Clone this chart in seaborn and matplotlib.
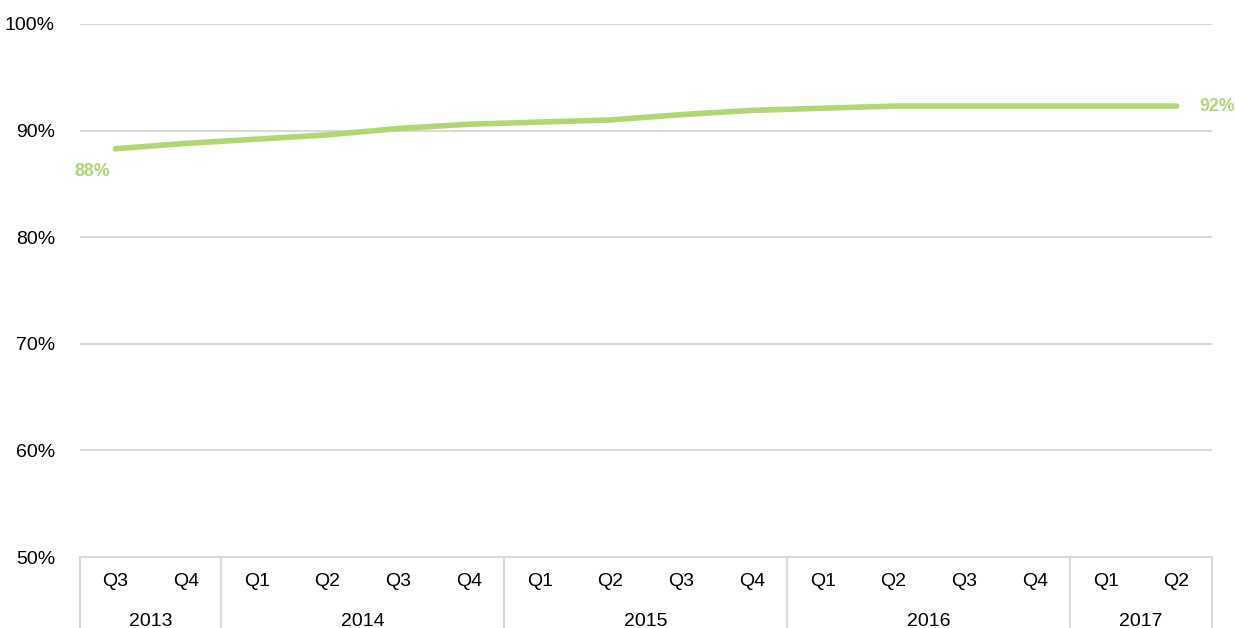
import matplotlib
matplotlib.use("Agg")
import matplotlib.pyplot as plt
import matplotlib.transforms as mtransforms
import seaborn as sns
import pandas as pd

# Quarterly series
years = ["2013", "2013", "2014", "2014", "2014", "2014", "2015", "2015",
         "2015", "2015", "2016", "2016", "2016", "2016", "2017", "2017"]
quarters = ["Q3", "Q4", "Q1", "Q2", "Q3", "Q4", "Q1", "Q2",
            "Q3", "Q4", "Q1", "Q2", "Q3", "Q4", "Q1", "Q2"]
values = [88.3, 88.8, 89.2, 89.6, 90.2, 90.6, 90.8, 91.0,
          91.5, 91.9, 92.1, 92.3, 92.3, 92.3, 92.3, 92.3]
y_ticks = [50, 60, 70, 80, 90, 100]

df = pd.DataFrame({"idx": range(len(values)), "value": values,
                   "year": years, "quarter": quarters})

sns.set_theme(style="white")
plt.rcParams["font.family"] = ["Liberation Sans", "DejaVu Sans"]

GREEN = "#B2D670"
GRID = "#D9D9D9"

fig = plt.figure(figsize=(12.35, 6.28), dpi=100)
ax = fig.add_axes([80 / 1235, 1 - 557 / 628, (1212 - 80) / 1235, (557 - 24) / 628])

sns.lineplot(data=df, x="idx", y="value", ax=ax, color=GREEN,
             linewidth=4.0, solid_capstyle="round", zorder=3)

ax.set_xlim(-0.5, len(values) - 0.5)
ax.set_ylim(50, 100)
ax.set_yticks(y_ticks)
ax.set_yticklabels([f"{v}%" for v in y_ticks], fontsize=14, color="#000000")
ax.tick_params(axis="y", length=0, pad=18)
ax.set_xticks([])
ax.set_xlabel("")
ax.set_ylabel("")
for v in y_ticks[1:]:
    ax.axhline(v, color=GRID, linewidth=1.5, zorder=1)
for s in ["top", "right", "left"]:
    ax.spines[s].set_visible(False)
ax.spines["bottom"].set_color(GRID)
ax.spines["bottom"].set_linewidth(1.5)

# Two-level category axis: quarters and years
trans = mtransforms.blended_transform_factory(ax.transData, ax.transAxes)
px = 1 / 533
for i, q in enumerate(quarters):
    ax.text(i, -24 * px, q, transform=trans, ha="center", va="center",
            fontsize=14, color="#000000")

bounds = [-0.5]
groups = []
start = 0
for i in range(1, len(years) + 1):
    if i == len(years) or years[i] != years[start]:
        groups.append((years[start], start, i - 1))
        bounds.append(i - 0.5)
        start = i
for b in bounds:
    ax.plot([b, b], [0, -75 * px], transform=trans, color=GRID,
            linewidth=1.5, clip_on=False)
for name, a, b in groups:
    ax.text((a + b) / 2, -65 * px, name, transform=trans, ha="center",
            va="center", fontsize=14, color="#000000")

# End-point value labels
ax.text(-0.32, values[0] - 2.1, f"{values[0]:.0f}%", ha="center", va="center",
        fontsize=12.8, fontweight="bold", color=GREEN)
ax.text(len(values) - 1 + 0.57, values[-1], f"{values[-1]:.0f}%", ha="center",
        va="center", fontsize=12.8, fontweight="bold", color=GREEN,
        clip_on=False)

fig.savefig("out.png", dpi=100)
